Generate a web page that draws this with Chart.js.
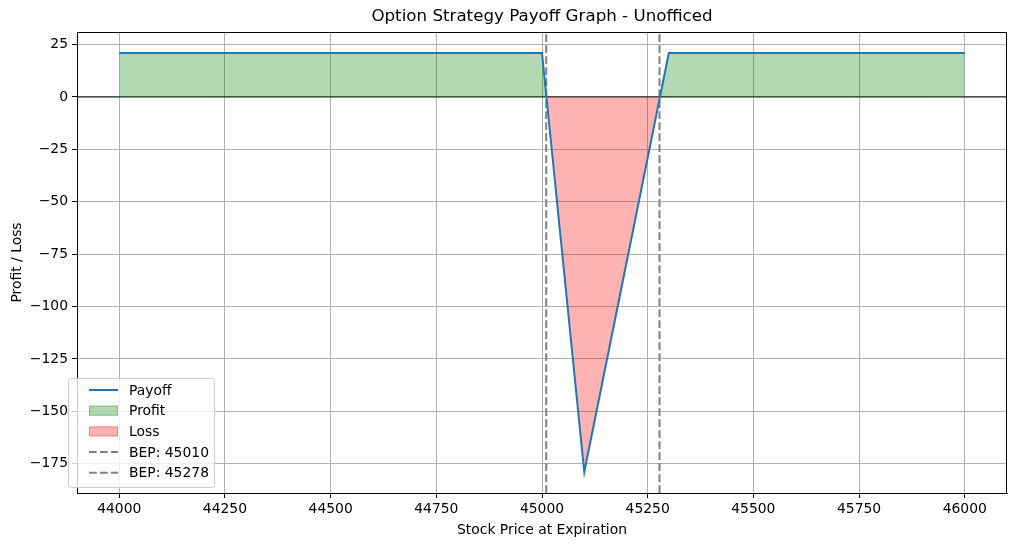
<!DOCTYPE html>
<html>
<head>
<meta charset="utf-8">
<script src="https://cdn.jsdelivr.net/npm/chart.js@4.4.1/dist/chart.umd.min.js"></script>
<style>
  html, body { margin: 0; padding: 0; background: #fff; }
  canvas { display: block; }
</style>
</head>
<body>
<canvas id="payoffChart" width="1017" height="547"></canvas>
<script>
// values
const prices = [44000, 45000, 45100, 45300, 46000];
const payoff = [21, 21, -179, 21, 21];
const bepPrices = [45010, 45278];
const xTicks = [44000, 44250, 44500, 44750, 45000, 45250, 45500, 45750, 46000];
const yTicks = [25, 0, -25, -50, -75, -100, -125, -150, -175];
const xRange = [43900, 46100];
const yRange = [-189, 31];

const titleText = 'Option Strategy Payoff Graph - Unofficed';
const xLabel = 'Stock Price at Expiration';
const yLabel = 'Profit / Loss';

const FONT = "'DejaVu Sans', sans-serif";
const profitFill = 'rgba(0, 128, 0, 0.3)';
const lossFill = 'rgba(255, 0, 0, 0.3)';
const DASH = [7.7, 3.3];

Chart.defaults.font.family = FONT;
Chart.defaults.font.size = 13.9;
Chart.defaults.color = '#000';

const payoffPoints = prices.map((p, i) => ({ x: p, y: payoff[i] }));

// vertical dashed lines at the break-even prices, spanning the whole axis
const bepSets = bepPrices.map(b => ({
    label: 'BEP: ' + b,
    data: [{ x: b, y: yRange[0] }, { x: b, y: yRange[1] }],
    borderColor: '#808080',
    borderWidth: 2,
    borderDash: DASH,
    pointRadius: 0,
    fill: false
}));

const legendItems = [
    { kind: 'line', color: '#1f77b4', text: 'Payoff' },
    { kind: 'patch', color: profitFill, edge: 'rgba(0,128,0,0.3)', text: 'Profit' },
    { kind: 'patch', color: lossFill, edge: 'rgba(255,0,0,0.3)', text: 'Loss' },
    { kind: 'dash', color: '#808080', text: 'BEP: ' + bepPrices[0] },
    { kind: 'dash', color: '#808080', text: 'BEP: ' + bepPrices[1] }
];

// title, axis labels, frame and the legend box
const decorPlugin = {
    id: 'decor',
    afterDraw(chart) {
        const ctx = chart.ctx;
        const a = chart.chartArea;
        ctx.save();

        // top and right spines
        ctx.strokeStyle = '#000';
        ctx.lineWidth = 1;
        ctx.strokeRect(a.left + 0.5, a.top + 0.5, a.right - a.left - 1, a.bottom - a.top);

        ctx.fillStyle = '#000';
        ctx.textAlign = 'center';
        ctx.textBaseline = 'middle';
        ctx.font = '16.7px ' + FONT;
        ctx.fillText(titleText, (a.left + a.right) / 2, 17);

        ctx.font = '13.9px ' + FONT;
        ctx.fillText(xLabel, (a.left + a.right) / 2, 530);
        ctx.save();
        ctx.translate(17, (a.top + a.bottom) / 2);
        ctx.rotate(-Math.PI / 2);
        ctx.fillText(yLabel, 0, 0);
        ctx.restore();

        // legend
        const bx = 68, by = 378, bw = 146, bh = 109;
        ctx.beginPath();
        ctx.roundRect(bx + 0.5, by + 0.5, bw, bh, 3);
        ctx.fillStyle = 'rgba(255,255,255,0.8)';
        ctx.fill();
        ctx.strokeStyle = '#cccccc';
        ctx.lineWidth = 1;
        ctx.stroke();

        ctx.textAlign = 'left';
        ctx.font = '13.9px ' + FONT;
        legendItems.forEach((it, i) => {
            const cy = 390 + i * 20.7;
            if (it.kind === 'patch') {
                ctx.fillStyle = it.color;
                ctx.fillRect(89, cy - 5, 29, 10);
                ctx.strokeStyle = it.edge;
                ctx.strokeRect(89.5, cy - 4.5, 28, 9);
            } else {
                ctx.beginPath();
                ctx.strokeStyle = it.color;
                ctx.lineWidth = 2;
                ctx.setLineDash(it.kind === 'dash' ? DASH : []);
                ctx.moveTo(89, cy);
                ctx.lineTo(118, cy);
                ctx.stroke();
                ctx.setLineDash([]);
                ctx.lineWidth = 1;
            }
            ctx.fillStyle = '#000';
            ctx.fillText(it.text, 129, cy + 1);
        });
        ctx.restore();
    }
};

new Chart(document.getElementById('payoffChart'), {
    type: 'line',
    data: {
        datasets: [
            {
                label: 'Payoff',
                data: payoffPoints,
                borderColor: '#1f77b4',
                borderWidth: 2,
                pointRadius: 0,
                tension: 0,
                fill: { target: 'origin', above: profitFill, below: lossFill }
            },
            ...bepSets,
            {
                label: 'zero',
                data: [{ x: xRange[0], y: 0 }, { x: xRange[1], y: 0 }],
                borderColor: '#000',
                borderWidth: 1,
                pointRadius: 0,
                fill: false
            }
        ]
    },
    options: {
        responsive: false,
        animation: false,
        events: [],
        layout: { padding: { top: 32, right: 10, left: 0, bottom: 0 } },
        plugins: {
            legend: { display: false },
            title: { display: false },
            tooltip: { enabled: false }
        },
        scales: {
            x: {
                type: 'linear',
                min: xRange[0],
                max: xRange[1],
                afterBuildTicks: s => { s.ticks = xTicks.map(v => ({ value: v })); },
                afterFit: s => { s.height = 54; },
                ticks: {
                    padding: 3,
                    maxRotation: 0,
                    autoSkip: false,
                    color: '#000',
                    callback: v => String(v)
                },
                grid: { color: '#b0b0b0', lineWidth: 1, tickLength: 5, tickColor: '#000' },
                border: { color: '#000', width: 1 }
            },
            y: {
                type: 'linear',
                min: yRange[0],
                max: yRange[1],
                afterBuildTicks: s => { s.ticks = yTicks.map(v => ({ value: v })); },
                afterFit: s => { s.width = 77; },
                ticks: {
                    padding: 4,
                    autoSkip: false,
                    color: '#000',
                    callback: v => (v < 0 ? '\u2212' + Math.abs(v) : String(v))
                },
                grid: { color: '#b0b0b0', lineWidth: 1, tickLength: 5, tickColor: '#000' },
                border: { color: '#000', width: 1 }
            }
        }
    },
    plugins: [decorPlugin]
});
</script>
</body>
</html>
